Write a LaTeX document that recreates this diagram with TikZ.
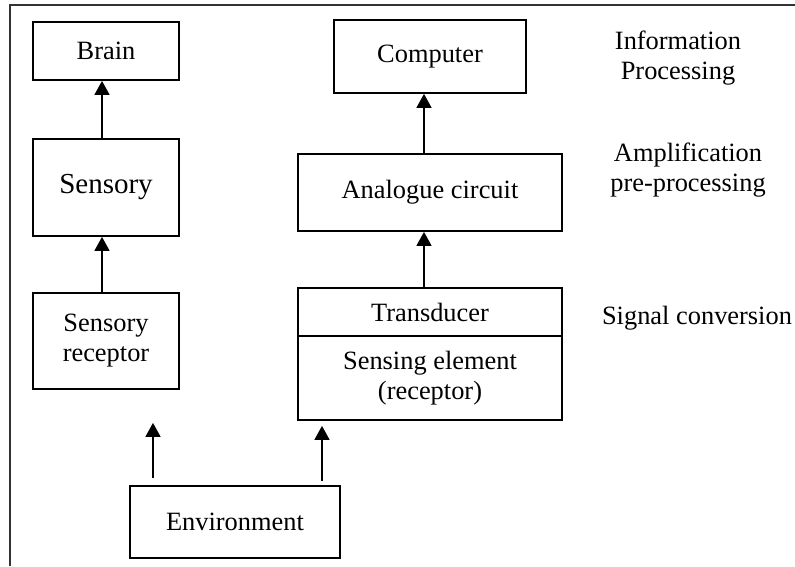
\documentclass[tikz,border=0pt]{standalone}
\usepackage{fontspec}
\setmainfont{Liberation Serif}
\usetikzlibrary{arrows.meta}
\begin{document}
\begin{tikzpicture}[x=1pt,y=-1pt,
  every node/.style={font=\fontsize{26.4}{30}\selectfont, inner sep=0pt, align=center},
  blk/.style={draw, line width=1.8pt, minimum width=#1},
  arr/.style={line width=1.6pt, -{Triangle[width=15pt,length=14pt]}},
  lbl/.style={}]
  \useasboundingbox (0,0) rectangle (795,566);
  % open frame
  \draw[line width=1.8pt, black!80] (10,566) -- (10,5) -- (795,5);

  % biological chain
  \node[blk=146pt, minimum height=58pt] (brain) at (106,51) {Brain};
  \node[blk=146pt, minimum height=97pt, font=\fontsize{29}{33}\selectfont] (sens) at (106,187.5) {Sensory};
  \node[blk=146pt, minimum height=96pt] (srec) at (106,341) {Sensory\\receptor};

  % technical chain
  \node[blk=192pt, minimum height=73pt] (comp) at (430,56.5) {Computer};
  \node[blk=264pt, minimum height=77pt] (ana) at (430,192.5) {Analogue circuit};
  \node[blk=264pt, minimum height=48pt] (trans) at (430,312) {Transducer};
  \node[blk=264pt, minimum height=84pt] (sense) at (430,378) {Sensing element\\(receptor)};

  \node[blk=210pt, minimum height=72pt] (env) at (235,522) {Environment};

  % stage labels
  \node[lbl] (l1) at (678,58) {Information\\Processing};
  \node[lbl] (l2) at (688,170) {Amplification\\pre-processing};
  \node[lbl] (l3) at (697,318) {Signal conversion};

  % arrow columns
  \coordinate (lx) at (102,0);
  \coordinate (rx) at (424,0);
  \coordinate (ea) at (153,0);
  \coordinate (eb) at (322,0);

  \draw[arr] (sens.north -| lx) -- (brain.south -| lx);
  \draw[arr] (srec.north -| lx) -- (sens.south -| lx);
  \draw[arr] (ana.north -| rx) -- (comp.south -| rx);
  \draw[arr] (trans.north -| rx) -- (ana.south -| rx);
  \draw[arr, shorten <=7pt, shorten >=33pt] (env.north -| ea) -- (srec.south -| ea);
  \draw[arr, shorten <=4pt, shorten >=5pt] (env.north -| eb) -- (sense.south -| eb);
\end{tikzpicture}
\end{document}
